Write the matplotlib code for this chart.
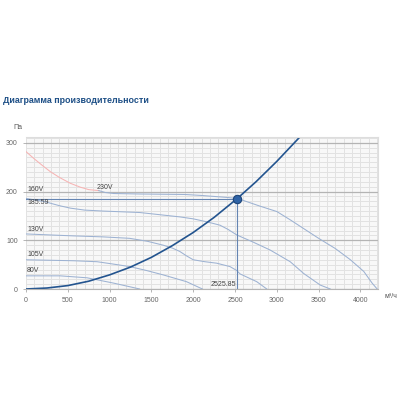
import matplotlib
matplotlib.use("Agg")
import matplotlib.pyplot as plt
from matplotlib.ticker import MultipleLocator

plt.rcParams['font.family'] = ['Liberation Sans', 'DejaVu Sans']

# Kennlinien (Q in m³/h, P in Pa)
q_230_low = [0, 100, 200, 290, 400, 530, 650, 750, 870]
p_230_low = [282, 267, 253, 241, 229, 217, 209, 204, 202]
q_230 = [870, 950, 1050, 1360, 1900, 2100, 2250, 2400, 2526, 2800, 3000, 3160, 3500, 3700, 3880, 4040, 4140, 4200]
p_230 = [202, 198, 196, 195, 194, 192, 190, 188, 186, 170, 159, 142, 104, 83, 60, 36, 12, 0]

q_160 = [0, 230, 400, 530, 700, 920, 1360, 1840, 2000, 2160, 2320, 2420, 2520, 2720, 2920, 3160, 3320, 3520, 3640]
p_160 = [186, 179, 171, 166, 162, 160, 157, 148, 144, 138, 131, 122, 111, 96, 80, 56, 32, 8, 0]

q_130 = [0, 570, 920, 1240, 1450, 1640, 1750, 1840, 1920, 2000, 2140, 2280, 2440, 2520, 2560, 2660, 2760, 2880]
p_130 = [113, 109, 107, 104, 98, 90, 84, 77, 68, 60, 56, 53, 46, 38, 31, 23, 15, 0]

q_105 = [0, 570, 850, 1050, 1240, 1440, 1640, 1920, 2110]
p_105 = [60, 58, 56, 51, 46, 38, 29, 15, 0]

q_80 = [0, 410, 730, 1050, 1360]
p_80 = [27, 27, 23, 12, 0]

# Anlagenkennlinie
q_sys = [0, 250, 500, 750, 1000, 1250, 1500, 1750, 2000, 2250, 2525.85, 2750, 3000, 3275]
p_sys = [0, 2, 7, 16, 29, 45, 65, 89, 116, 147, 185.59, 220, 262, 312]

op_q = 2525.85
op_p = 185.59

curve_labels = ["230V", "160V", "130V", "105V", "80V"]
label_pos = [(850, 201), (12, 197), (12, 114), (12, 63), (12, 31)]

fig = plt.figure(figsize=(4, 4), dpi=100)
fig.text(0.008, 0.748, "Диаграмма производительности", fontsize=6.4,
         fontweight="bold", color="#1d4f86", va="center", ha="left")

ax = fig.add_axes([0.065, 0.2775, 0.88, 0.38])
ax.set_facecolor("#f8f8f8")
ax.set_xlim(0, 4210)
ax.set_ylim(0, 312)

ax.xaxis.set_major_locator(MultipleLocator(500))
ax.xaxis.set_minor_locator(MultipleLocator(100))
ax.yaxis.set_major_locator(MultipleLocator(100))
ax.yaxis.set_minor_locator(MultipleLocator(10))
ax.grid(which="minor", color="#e2e2e2", linewidth=0.7)
ax.grid(which="major", axis="x", color="#e2e2e2", linewidth=0.7)
ax.grid(which="major", axis="y", color="#b4b4b4", linewidth=0.9)
ax.set_axisbelow(True)

for s in ["top", "right"]:
    ax.spines[s].set_color("#dddddd")
    ax.spines[s].set_linewidth(0.8)
ax.spines["left"].set_visible(False)
ax.spines["bottom"].set_color("#b4b4b4")

ax.tick_params(which="both", labelsize=5, colors="#666666", length=0)
ax.tick_params(which="major", length=2.5, width=0.6, color="#aaaaaa")
ax.tick_params(which="minor", length=0)

kurve = "#9db2d2"
ax.plot(q_230_low, p_230_low, color="#f6b4b4", linewidth=0.75)
ax.plot(q_230, p_230, color=kurve, linewidth=0.75)
ax.plot(q_160, p_160, color=kurve, linewidth=0.75)
ax.plot(q_130, p_130, color=kurve, linewidth=0.75)
ax.plot(q_105, p_105, color=kurve, linewidth=0.75)
ax.plot(q_80, p_80, color=kurve, linewidth=0.75)

# Arbeitspunkt
ax.plot([0, op_q], [op_p, op_p], color="#6585b2", linewidth=0.8)
ax.plot([op_q, op_q], [0, op_p], color="#6585b2", linewidth=0.8)
ax.plot(q_sys, p_sys, color="#23548f", linewidth=1.2)
ax.plot([op_q], [op_p], marker="o", markersize=6, color="#2f63a6",
        markeredgecolor="#1d4579", markeredgewidth=0.8, zorder=5)

for txt, (x, y) in zip(curve_labels, label_pos):
    ax.text(x, y, txt, fontsize=5, color="#444444", va="bottom", ha="left")
ax.text(12, op_p - 1, f"{op_p:.2f}", fontsize=5, color="#444444", va="top", ha="left")
ax.text(op_q - 10, 2, f"{op_q:.2f}", fontsize=5, color="#444444", va="bottom", ha="right")

fig.text(0.033, 0.682, "Па", fontsize=5, color="#555555", ha="left", va="center")
fig.text(0.962, 0.26, "м³/ч", fontsize=5, color="#555555", ha="left", va="center")

plt.savefig("out.png", dpi=100)
plt.close()
